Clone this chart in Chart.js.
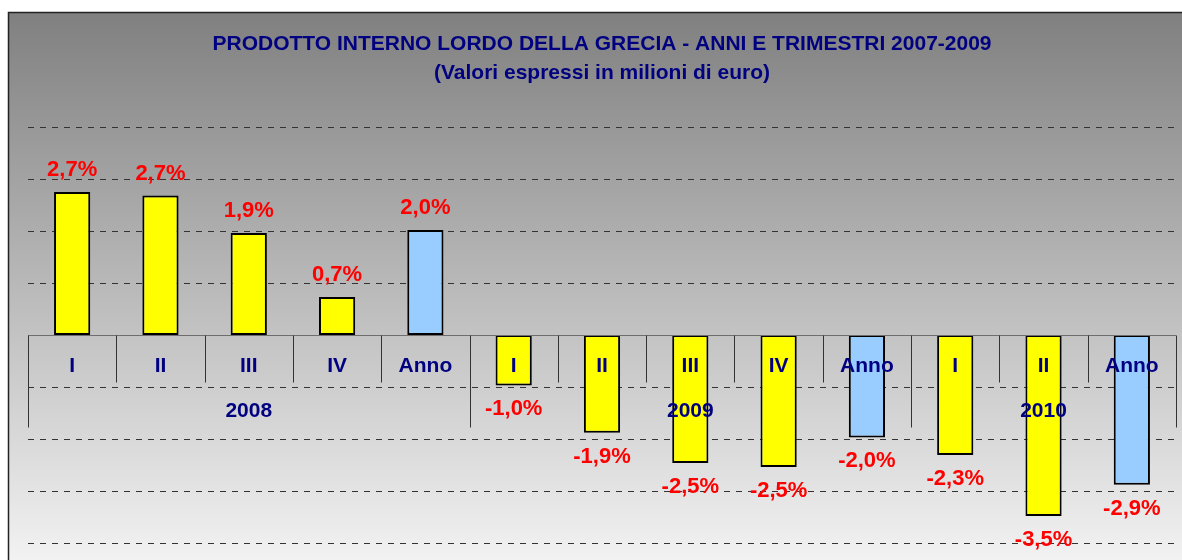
<!DOCTYPE html>
<html>
<head>
<meta charset="utf-8">
<script src="https://cdn.jsdelivr.net/npm/chart.js@4/dist/chart.umd.min.js"></script>
<style>
html,body{margin:0;padding:0;background:#fff;}
#wrap{width:1182px;height:560px;position:relative;}
</style>
</head>
<body>
<div id="wrap"><canvas id="c"></canvas></div>
<script>
const categories = ['I','II','III','IV','Anno','I','II','III','IV','Anno','I','II','Anno'];
const groups = ['2008','2009','2010'];
const groupSizes = [5,5,3];
const values = [2.75,2.68,1.96,0.73,2.02,-0.97,-1.88,-2.46,-2.54,-1.97,-2.31,-3.48,-2.88];
const valueLabels = ['2,7%','2,7%','1,9%','0,7%','2,0%','-1,0%','-1,9%','-2,5%','-2,5%','-2,0%','-2,3%','-3,5%','-2,9%'];
const yMin = -4, yMax = 4, yStep = 1;
const titleLines = ['PRODOTTO INTERNO LORDO DELLA GRECIA - ANNI E TRIMESTRI 2007-2009','(Valori espressi in milioni di euro)'];

const FONT = '"Liberation Sans", Arial, Helvetica, sans-serif';
const NAVY = '#000080';

const barColors = categories.map(c => c === 'Anno' ? '#99ccff' : '#ffff00');

const bgPlugin = {
  id: 'bg',
  beforeDraw(chart) {
    const ctx = chart.ctx;
    ctx.save();
    ctx.fillStyle = '#ffffff';
    ctx.fillRect(0, 0, chart.width, chart.height);
    const g = ctx.createLinearGradient(0, 13, 0, chart.height);
    g.addColorStop(0, '#808080');
    g.addColorStop(1, '#f2f2f2');
    ctx.fillStyle = g;
    ctx.fillRect(8, 13, chart.width, chart.height);
    ctx.strokeStyle = '#222';
    ctx.lineWidth = 1.5;
    ctx.beginPath();
    ctx.moveTo(8.5, chart.height + 5);
    ctx.lineTo(8.5, 12.5);
    ctx.lineTo(chart.width + 5, 12.5);
    ctx.stroke();
    ctx.restore();
  }
};

const gridPlugin = {
  id: 'grid',
  beforeDatasetsDraw(chart) {
    const ctx = chart.ctx, a = chart.chartArea, y = chart.scales.y;
    ctx.save();
    ctx.strokeStyle = '#333';
    ctx.lineWidth = 1;
    ctx.setLineDash([6, 6]);
    y.ticks.forEach(t => {
      if (t.value === 0) return;
      const py = Math.round(y.getPixelForValue(t.value)) + 0.5;
      ctx.beginPath();
      ctx.moveTo(a.left, py);
      ctx.lineTo(a.right, py);
      ctx.stroke();
    });
    ctx.restore();
  }
};

const labelPlugin = {
  id: 'labels',
  afterDatasetsDraw(chart) {
    const ctx = chart.ctx, a = chart.chartArea, x = chart.scales.x, y = chart.scales.y;
    const meta = chart.getDatasetMeta(0);
    const zero = Math.round(y.getPixelForValue(0)) + 0.5;
    const cw = (a.right - a.left) / categories.length;
    ctx.save();
    ctx.strokeStyle = '#6e6e6e';
    ctx.lineWidth = 1;
    ctx.beginPath();
    ctx.moveTo(a.left, zero);
    ctx.lineTo(a.right, zero);
    ctx.stroke();
    ctx.strokeStyle = '#333';
    let groupStarts = [0];
    groupSizes.reduce((s, n) => { groupStarts.push(s + n); return s + n; }, 0);
    for (let i = 0; i <= categories.length; i++) {
      const px = Math.round(x.getPixelForValue(Math.min(i, categories.length - 1)) + (i === categories.length ? cw / 2 : -cw / 2)) + 0.5;
      const isGroup = groupStarts.includes(i);
      ctx.beginPath();
      ctx.moveTo(px, zero);
      ctx.lineTo(px, zero + (isGroup ? 92 : 47));
      ctx.stroke();
    }
    ctx.fillStyle = NAVY;
    ctx.font = 'bold 21px ' + FONT;
    ctx.textAlign = 'center';
    ctx.textBaseline = 'middle';
    categories.forEach((c, i) => {
      ctx.fillText(c, x.getPixelForValue(i), zero + 31);
    });
    let start = 0;
    groups.forEach((g, gi) => {
      const first = x.getPixelForValue(start);
      const last = x.getPixelForValue(start + groupSizes[gi] - 1);
      ctx.fillText(g, (first + last) / 2, zero + 76);
      start += groupSizes[gi];
    });
    ctx.fillStyle = '#ff0000';
    ctx.font = 'bold 22px ' + FONT;
    meta.data.forEach((bar, i) => {
      const v = values[i];
      const ly = v >= 0 ? bar.y - 22 : bar.y + 24;
      ctx.fillText(valueLabels[i], bar.x, ly);
    });
    ctx.restore();
  }
};

new Chart(document.getElementById('c'), {
  type: 'bar',
  data: {
    labels: categories,
    datasets: [{
      data: values,
      backgroundColor: barColors,
      borderColor: '#000',
      borderWidth: 2,
      borderSkipped: false,
      categoryPercentage: 1,
      barPercentage: 0.41
    }]
  },
  options: {
    responsive: true,
    maintainAspectRatio: false,
    animation: false,
    layout: { padding: { left: 28, right: 6, top: 0, bottom: 17 } },
    plugins: {
      legend: { display: false },
      tooltip: { enabled: false },
      title: {
        display: true,
        text: titleLines,
        color: NAVY,
        font: { family: FONT, size: 21, weight: 'bold', lineHeight: 1.38 },
        padding: { top: 30, bottom: 39 }
      }
    },
    scales: {
      x: { display: false, offset: true },
      y: { display: false, min: yMin, max: yMax, ticks: { stepSize: yStep } }
    }
  },
  plugins: [bgPlugin, gridPlugin, labelPlugin]
});
</script>
</body>
</html>
